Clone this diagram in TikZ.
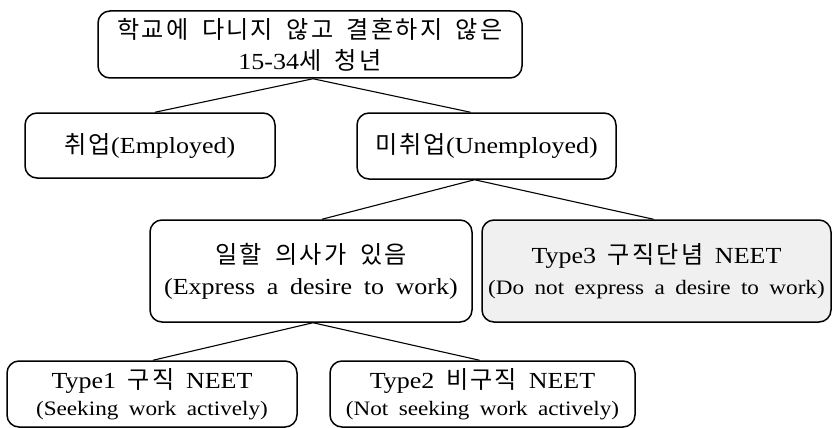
\documentclass[tikz,border=0pt]{standalone}
\usepackage{fontspec}
\setmainfont[FakeStretch=1.13,WordSpace=1.8]{Liberation Serif}
\newfontfamily\kofont[Scale=1.05,LetterSpace=9,WordSpace=1.8]{Noto Sans CJK KR}
\newcommand\K[1]{{\kofont #1}}
\begin{document}
\begin{tikzpicture}[x=1pt,y=-1pt,
  box/.style={draw, rounded corners=12pt, line width=1.5pt, align=center, inner sep=0pt},
  link/.style={line width=1.1pt},
  big/.style={font=\fontsize{23}{31}\selectfont},
  grayfill/.style={fill=black!6}]
\useasboundingbox (0,0) rectangle (833,428);
\node[box, big, minimum width=424pt, minimum height=67pt] (top) at (310,44.5)
  {\K{학교에 다니지 않고 결혼하지 않은}\\15-34\K{세 청년}};
\node[box, big, minimum width=250pt, minimum height=65pt] (emp) at (150,145.5)
  {\K{취업}(Employed)};
\node[box, big, minimum width=259pt, minimum height=66pt] (un) at (486.5,146)
  {\K{미취업}(Unemployed)};
\node[box, big, minimum width=322pt, minimum height=102pt] (exp) at (311,271)
  {\K{일할 의사가 있음}\\(Express a desire to work)};
\node[box, big, grayfill, minimum width=349pt, minimum height=102pt] (t3) at (656.5,271)
  {Type3 \K{구직단념} NEET\\{\fontsize{20.5}{32}\selectfont (Do not express a desire to work)}};
\node[box, font=\fontsize{23}{27}\selectfont, minimum width=290pt, minimum height=66pt] (t1) at (152,394)
  {Type1 \K{구직} NEET\\{\fontsize{20.5}{27}\selectfont (Seeking work actively)}};
\node[box, font=\fontsize{23}{27}\selectfont, minimum width=305pt, minimum height=66pt] (t2) at (482.5,394)
  {Type2 \K{비구직} NEET\\{\fontsize{20.5}{27}\selectfont (Not seeking work actively)}};
\draw[link] ([xshift=3pt]top.south) -- ([xshift=5pt]emp.north);
\draw[link] ([xshift=3pt]top.south) -- ([xshift=-16pt]un.north);
\draw[link] ([xshift=-12pt]un.south) -- ([xshift=11pt]exp.north);
\draw[link] ([xshift=-12pt]un.south) -- ([xshift=-3pt]t3.north);
\draw[link] ([xshift=2pt]exp.south) -- ([xshift=1pt]t1.north);
\draw[link] ([xshift=2pt]exp.south) -- ([xshift=-3pt]t2.north);
\end{tikzpicture}
\end{document}
